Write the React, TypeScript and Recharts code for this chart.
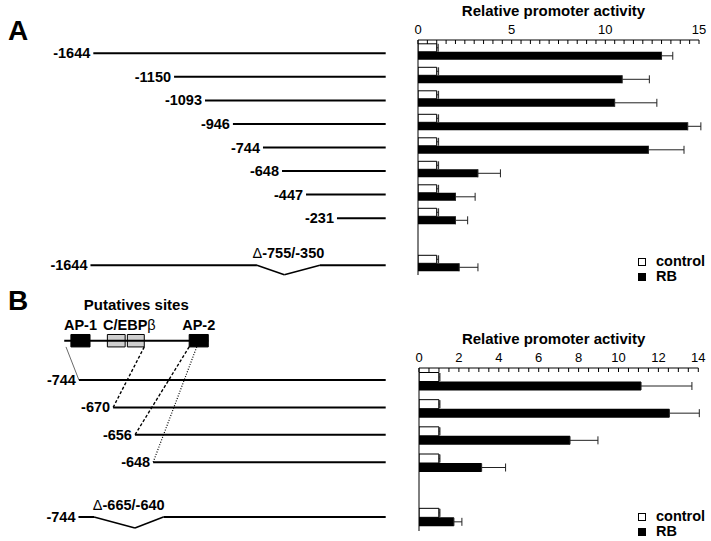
import React from 'react';
import {
  BarChart,
  Bar,
  XAxis,
  YAxis,
  ErrorBar,
  ReferenceLine,
  ReferenceArea,
  ReferenceDot,
  ComposedChart,
  Legend,
} from 'recharts';

const FONT = '"Liberation Sans", Arial, Helvetica, sans-serif';

// ---------------- Panel A : relative promoter activity ----------------
const categoriesA = ['-1644', '-1150', '-1093', '-946', '-744', '-648', '-447', '-231', '', 'Δ-755/-350'];
const controlA = [1, 1, 1, 1, 1, 1, 1, 1, null, 1];
const controlErrA = [0.08, 0.1, 0.1, 0.1, 0.1, 0.1, 0.1, 0.1, null, 0.1];
const rbA = [13.0, 10.9, 10.5, 14.4, 12.3, 3.2, 2.0, 2.0, null, 2.2];
const rbErrA = [0.6, 1.45, 2.25, 0.7, 1.9, 1.2, 1.05, 0.65, null, 1.0];
const tickStepsA = Array.from({ length: 31 }, (_, i) => i * 0.5);

// ---------------- Panel B : relative promoter activity ----------------
const categoriesB = ['-744', '-670', '-656', '-648', '', 'Δ-665/-640'];
const controlB = [1, 1, 1, 1, null, 1];
const controlErrB = [0.05, 0.05, 0.05, 0.05, null, 0.05];
const rbB = [11.13, 12.55, 7.57, 3.14, null, 1.75];
const rbErrB = [2.55, 1.5, 1.4, 1.2, null, 0.4];
const tickStepsB = Array.from({ length: 29 }, (_, i) => i * 0.5);

const seriesOrder = ['control', 'rb'];

// ---------------- Panel A : construct diagram (schematic bp) ----------------
const constructLabelsA = ['-1644', '-1150', '-1093', '-946', '-744', '-648', '-447', '-231'];
const constructStartA = [-1644, -1190, -1016, -859, -690, -583, -448, -274];
const deletionA = { label: '-1644', name: 'Δ-755/-350', row: 9, start: -1660, cutStart: -724, cutMid: -570, cutEnd: -370 };

// ---------------- Panel B : construct diagram (schematic bp) ----------------
const constructLabelsB = ['-744', '-670', '-656', '-648'];
const constructStartB = [-690, -613, -564, -523];
const deletionB = { label: '-744', name: 'Δ-665/-640', row: 5, start: -691, cutStart: -656, cutMid: -564, cutEnd: -500 };
const siteTrackB = { from: -723, to: -399 };
const siteBoxesB = [
  { site: 'AP-1', from: -708, to: -665, kind: 'solid' },
  { site: 'C/EBPβ', from: -626, to: -586, kind: 'shaded' },
  { site: 'C/EBPβ', from: -581, to: -543, kind: 'shaded' },
  { site: 'AP-2', from: -442, to: -399, kind: 'solid' },
];
const siteLabelsB = [
  { text: 'AP-1', from: -708, to: -665 },
  { text: 'C/EBPβ', from: -626, to: -527 },
  { text: 'AP-2', from: -442, to: -399 },
];
const connectorsB = [
  { from: -719, construct: 0, style: 'thin' },
  { from: -543, construct: 1, style: 'dash' },
  { from: -442, construct: 2, style: 'dash' },
  { from: -425, construct: 3, style: 'dot' },
];

// ---------------- helpers ----------------
const toRows = (cats: string[], c: any[], ce: any[], r: any[], re: any[]) =>
  cats.map((name, i) => ({
    name,
    control: c[i],
    controlErr: c[i] == null ? null : [0, ce[i]],
    rb: r[i],
    rbErr: r[i] == null ? null : [0, re[i]],
  }));

const dataA = toRows(categoriesA, controlA, controlErrA, rbA, rbErrA);
const dataB = toRows(categoriesB, controlB, controlErrB, rbB, rbErrB);

const rich = (s: string) =>
  s
    .split(/([Δβ])/)
    .filter((p) => p.length > 0)
    .map((part, i) =>
      /[Δβ]/.test(part) ? (
        <tspan key={i} fontWeight={400}>
          {part}
        </tspan>
      ) : (
        <tspan key={i}>{part}</tspan>
      )
    );

const LABEL_SIZE = 14.5;

const leftLabel = (value: string) => ({
  content: (p: any) => {
    const vb = p.viewBox || {};
    return (
      <text x={vb.x - 3} y={vb.y + 5} textAnchor="end" fontFamily={FONT} fontWeight={700} fontSize={LABEL_SIZE} fill="#000">
        {value}
      </text>
    );
  },
});

const centerLabel = (value: string, dy: number, size = LABEL_SIZE) => ({
  content: (p: any) => {
    const vb = p.viewBox || {};
    return (
      <text x={vb.x} y={vb.y + dy} textAnchor="middle" fontFamily={FONT} fontWeight={700} fontSize={size} fill="#000">
        {rich(value)}
      </text>
    );
  },
});

const makeTick = (every: number) => (p: any) => {
  const v = Number(p.payload?.value);
  const show = Math.abs(v / every - Math.round(v / every)) < 1e-6;
  if (!show) return <g />;
  return (
    <text x={p.x} y={p.y} textAnchor="middle" fontFamily={FONT} fontSize={13} fill="#000">
      {v}
    </text>
  );
};

const LegendBox = (props: any) => {
  const items = [...(props.payload || [])].sort(
    (a: any, b: any) => seriesOrder.indexOf(String(a.dataKey)) - seriesOrder.indexOf(String(b.dataKey))
  );
  return (
    <div style={{ fontFamily: FONT, fontWeight: 700, fontSize: 14.5, lineHeight: '15px', color: '#000' }}>
      {items.map((it: any) => (
        <div key={it.value} style={{ display: 'flex', alignItems: 'center', whiteSpace: 'nowrap' }}>
          <span
            style={{
              display: 'inline-block',
              width: 8,
              height: 8,
              boxSizing: 'border-box',
              border: '1px solid #000',
              background: it.color,
              marginRight: 10,
            }}
          />
          {it.value}
        </div>
      ))}
    </div>
  );
};

function ActivityChart(props: {
  data: any[];
  max: number;
  ticks: number[];
  every: number;
  width: number;
  height: number;
  margin: any;
  gap: number;
  legendTop: number;
}) {
  const { data, max, ticks, every, width, height, margin, gap, legendTop } = props;
  return (
    <BarChart width={width} height={height} data={data} layout="vertical" margin={margin} barCategoryGap={gap} barGap={0}>
      <XAxis
        type="number"
        orientation="top"
        domain={[0, max]}
        ticks={ticks}
        interval={0}
        height={20}
        tickSize={-4}
        tickMargin={10}
        tickLine={{ stroke: '#000' }}
        axisLine={{ stroke: '#000' }}
        tick={makeTick(every)}
        allowDataOverflow
        label={{
          value: 'Relative promoter activity',
          position: 'top',
          offset: 4,
          dx: -5,
          fontSize: 15,
          fontWeight: 700,
          fill: '#000',
          fontFamily: FONT,
        }}
      />
      <YAxis type="category" dataKey="name" hide />
      <ReferenceLine x={0} stroke="#000" strokeWidth={1} />
      <Bar dataKey="control" name="control" fill="#fff" stroke="#000" strokeWidth={1} isAnimationActive={false}>
        <ErrorBar dataKey="controlErr" direction="x" width={4} stroke="#222" strokeWidth={1} />
      </Bar>
      <Bar dataKey="rb" name="RB" fill="#000" isAnimationActive={false}>
        <ErrorBar dataKey="rbErr" direction="x" width={4} stroke="#222" strokeWidth={1} />
      </Bar>
      <Legend
        layout="vertical"
        align="center"
        verticalAlign="middle"
        content={(p: any) => <LegendBox {...p} />}
        wrapperStyle={{ left: 238, top: legendTop, width: 'auto', height: 'auto' }}
      />
    </BarChart>
  );
}

const DIP = 0.4;

function deletionSegments(d: any, keyPrefix: string) {
  const pts = [
    { x: d.start, y: d.row },
    { x: d.cutStart, y: d.row },
    { x: d.cutMid, y: d.row + DIP },
    { x: d.cutEnd, y: d.row },
    { x: 0, y: d.row },
  ];
  const segs = [];
  for (let i = 0; i < pts.length - 1; i++) {
    segs.push(
      <ReferenceLine
        key={`${keyPrefix}-${i}`}
        segment={[pts[i], pts[i + 1]]}
        stroke="#000"
        strokeWidth={i === 0 || i === 3 ? 2 : 1.5}
        ifOverflow="visible"
        label={i === 0 ? leftLabel(d.label) : undefined}
      />
    );
  }
  return segs;
}

function DiagramA() {
  return (
    <ComposedChart width={400} height={290} margin={{ top: 6.2, right: 14.3, bottom: 1.2, left: 30 }} data={[]}>
      <XAxis type="number" dataKey="x" domain={[-2000, 0]} hide allowDataOverflow />
      <YAxis type="number" dataKey="y" domain={[-2, 10]} reversed hide allowDataOverflow />
      {constructLabelsA.map((lab, i) => (
        <ReferenceLine
          key={lab}
          segment={[
            { x: constructStartA[i], y: i },
            { x: 0, y: i },
          ]}
          stroke="#000"
          strokeWidth={2}
          ifOverflow="visible"
          label={leftLabel(lab)}
        />
      ))}
      {deletionSegments(deletionA, 'delA')}
      <ReferenceDot
        x={(deletionA.cutStart + deletionA.cutEnd) / 2}
        y={deletionA.row}
        r={0}
        fill="none"
        stroke="none"
        ifOverflow="visible"
        label={centerLabel(deletionA.name, -7)}
      />
    </ComposedChart>
  );
}

const SITE_ROW = -1.434;
const SITE_HALF = 0.227;

function DiagramB() {
  const dash: Record<string, any> = {
    thin: { stroke: '#444', strokeWidth: 0.8 },
    dash: { stroke: '#000', strokeWidth: 1.4, strokeDasharray: '3 2' },
    dot: { stroke: '#000', strokeWidth: 1.2, strokeDasharray: '1 1.6' },
  };
  return (
    <ComposedChart width={400} height={251} margin={{ top: 7.8, right: 14.3, bottom: 2.1, left: 30 }} data={[]}>
      <XAxis type="number" dataKey="x" domain={[-800, 0]} hide allowDataOverflow />
      <YAxis type="number" dataKey="y" domain={[-3, 5.8]} reversed hide allowDataOverflow />
      {/* putative sites track */}
      <ReferenceLine
        segment={[
          { x: siteTrackB.from, y: SITE_ROW },
          { x: siteTrackB.to, y: SITE_ROW },
        ]}
        stroke="#000"
        strokeWidth={2}
        ifOverflow="visible"
      />
      {connectorsB.map((c, i) => (
        <ReferenceLine
          key={`con-${i}`}
          segment={[
            { x: c.from, y: SITE_ROW + SITE_HALF },
            { x: constructStartB[c.construct], y: c.construct },
          ]}
          ifOverflow="visible"
          {...dash[c.style]}
        />
      ))}
      {siteBoxesB.map((b, i) => (
        <ReferenceArea
          key={`box-${i}`}
          x1={b.from}
          x2={b.to}
          y1={SITE_ROW - SITE_HALF}
          y2={SITE_ROW + SITE_HALF}
          fill={b.kind === 'solid' ? '#000' : '#cfcfcf'}
          fillOpacity={1}
          stroke="#000"
          strokeWidth={1}
          ifOverflow="visible"
        />
      ))}
      {siteLabelsB.map((s) => (
        <ReferenceDot
          key={s.text}
          x={(s.from + s.to) / 2}
          y={SITE_ROW}
          r={0}
          fill="none"
          stroke="none"
          ifOverflow="visible"
          label={centerLabel(s.text, -10.7)}
        />
      ))}
      <ReferenceDot
        x={(siteTrackB.from + siteTrackB.to) / 2}
        y={SITE_ROW}
        r={0}
        fill="none"
        stroke="none"
        ifOverflow="visible"
        label={centerLabel('Putatives sites', -30.7, 15)}
      />
      {constructLabelsB.map((lab, i) => (
        <ReferenceLine
          key={lab}
          segment={[
            { x: constructStartB[i], y: i },
            { x: 0, y: i },
          ]}
          stroke="#000"
          strokeWidth={2}
          ifOverflow="visible"
          label={leftLabel(lab)}
        />
      ))}
      {deletionSegments(deletionB, 'delB')}
      <ReferenceDot
        x={(deletionB.cutStart + deletionB.cutEnd) / 2}
        y={deletionB.row}
        r={0}
        fill="none"
        stroke="none"
        ifOverflow="visible"
        label={centerLabel(deletionB.name, -7)}
      />
    </ComposedChart>
  );
}

export default function App() {
  return (
    <div
      style={{
        position: 'absolute',
        left: 0,
        top: 0,
        width: 711,
        height: 541,
        background: '#fff',
        fontFamily: FONT,
        overflow: 'hidden',
      }}
    >
      <div style={{ position: 'absolute', left: 0, top: 0 }}>
        <DiagramA />
      </div>
      <div style={{ position: 'absolute', left: 400, top: 0 }}>
        <ActivityChart
          data={dataA}
          max={15}
          ticks={tickStepsA}
          every={5}
          width={311}
          height={290}
          margin={{ top: 20, right: 12, bottom: 15, left: 18 }}
          gap={3.8}
          legendTop={254}
        />
      </div>
      <div style={{ position: 'absolute', left: 0, top: 290 }}>
        <DiagramB />
      </div>
      <div style={{ position: 'absolute', left: 400, top: 320 }}>
        <ActivityChart
          data={dataB}
          max={14}
          ticks={tickStepsB}
          every={2}
          width={311}
          height={221}
          margin={{ top: 28, right: 12.7, bottom: 10, left: 19 }}
          gap={4.5}
          legendTop={189}
        />
      </div>
      <svg
        width={711}
        height={541}
        style={{ position: 'absolute', left: 0, top: 0, pointerEvents: 'none' }}
      >
        <text x={8} y={40} fontFamily={FONT} fontWeight={700} fontSize={28} fill="#000">
          A
        </text>
        <text x={8} y={310} fontFamily={FONT} fontWeight={700} fontSize={28} fill="#000">
          B
        </text>
      </svg>
    </div>
  );
}
